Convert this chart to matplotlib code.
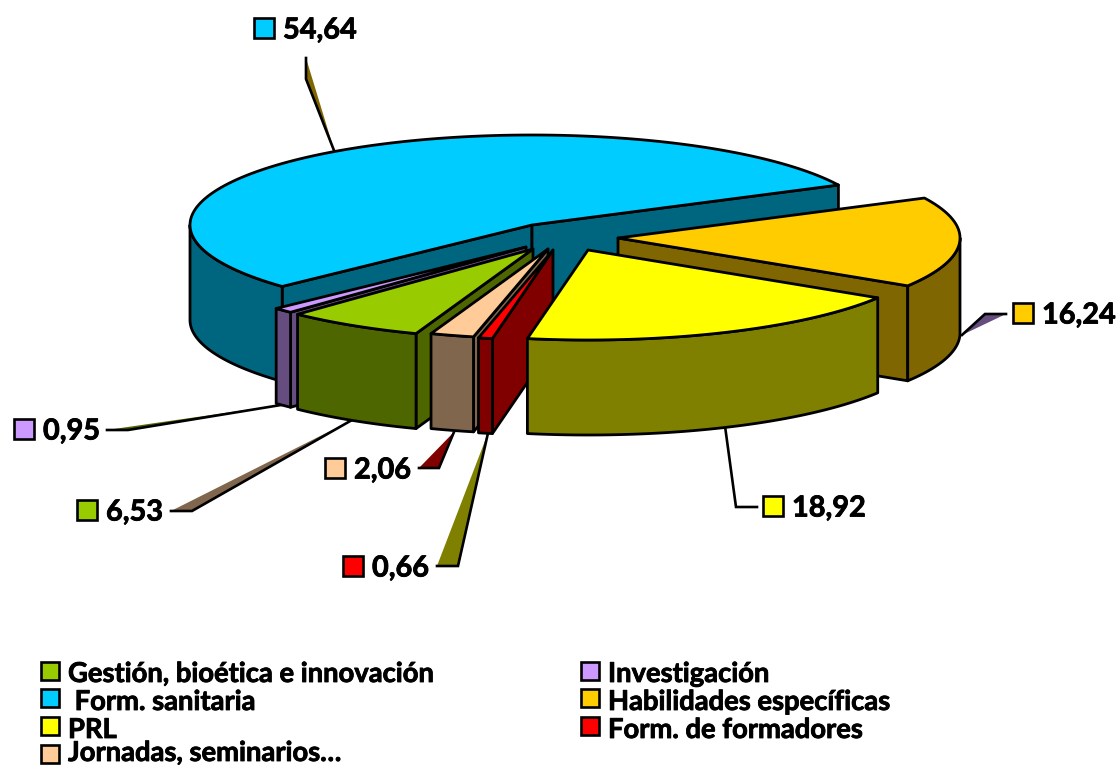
import numpy as np
import matplotlib
matplotlib.use("Agg")
import matplotlib.pyplot as plt
import matplotlib.patheffects as pe
from matplotlib.patches import Polygon, Rectangle

# legend order, which is also the order round the pie (clockwise)
names = ["Gestión, bioética e innovación", "Investigación", " Form. sanitaria",
         "Habilidades específicas", "PRL", "Form. de formadores", "Jornadas, seminarios…"]
values = [6.53, 0.95, 54.64, 16.24, 18.92, 0.66, 2.06]
labels = ["6,53", "0,95", "54,64", "16,24", "18,92", "0,66", "2,06"]

top_colors = ["#99CC00", "#CC99FF", "#00CCFF", "#FFCC00", "#FFFF00", "#FF0000", "#FFCC99"]
wall_colors = ["#4D6600", "#664D80", "#006680", "#806600", "#808000", "#800000", "#80664D"]
leader_colors = ["#80664D", "#4D6600", "#806600", "#664D80", "none", "#808000", "#800000"]

# where each exploded slice has its tip, in pixels
tips = [(533, 249), (526, 247), (532, 225), (618, 238), (588, 250), (553, 250), (548, 249)]
draw_order = [2, 3, 1, 0, 6, 5, 4]

start_angle = 250
rx, ry, depth = 342, 90, 95
font = "Lato"

# leader lines and data labels (swatch left, swatch top)
leaders = [[(352, 420), (192, 511), (171, 511)],
           [(287, 404), (128, 430), (107, 430)],
           [(335, 153), (306, 79), (306, 58)],
           [(962, 335), (985, 314), (1006, 314)],
           [(725, 426), (736, 507), (757, 507)],
           [(488, 433), (458, 566), (437, 566)],
           [(454, 432), (439, 468), (419, 468)]]
label_pos = [(77, 500), (14, 419), (254, 18), (1013, 303), (763, 496), (343, 556), (325, 458)]
legend_pos = [(41, 662), (581, 662), (41, 689), (581, 689), (41, 717), (581, 717), (41, 745)]
legend_text_y = [672, 672, 700, 700, 728, 728, 751]

fig = plt.figure(figsize=(11.16, 7.65), dpi=100)
ax = fig.add_axes([0, 0, 1, 1])
ax.set_xlim(0, 1116)
ax.set_ylim(765, 0)
ax.axis("off")

heavier = [pe.withStroke(linewidth=0.6, foreground="black")]


def rim(tip, a, b):
    t = np.radians(np.linspace(a, b, max(2, int(abs(a - b)) * 2)))
    return np.column_stack([tip[0] + rx * np.cos(t), tip[1] - ry * np.sin(t)])


def face(pts, color, z):
    ax.add_patch(Polygon(pts, closed=True, fc=color, ec="black", lw=2.0, joinstyle="round", zorder=z))


def radial_wall(tip, a, color, z):
    p = rim(tip, a, a)[0]
    face([tip, p, (p[0], p[1] + depth), (tip[0], tip[1] + depth)], color, z)


def swatch(x, y, w, color):
    ax.add_patch(Rectangle((x, y), w, w, fc=color, ec="black", lw=1.9, zorder=20))


# slices
angles = start_angle - np.cumsum([0] + values) * 3.6
for n, i in enumerate(draw_order):
    a, b = angles[i], angles[i + 1]
    z = 5 + n
    if np.cos(np.radians(a)) < 0:
        radial_wall(tips[i], a, wall_colors[i], z)
    if np.cos(np.radians(b)) > 0:
        radial_wall(tips[i], b, wall_colors[i], z)
    # only the front of the rim shows
    for band_lo, band_hi in [(180, 360), (-180, 0)]:
        hi, lo = min(a, band_hi), max(b, band_lo)
        if hi > lo:
            edge = rim(tips[i], hi, lo)
            face(np.vstack([edge, (edge + [0, depth])[::-1]]), wall_colors[i], z)
    face(np.vstack([[tips[i]], rim(tips[i], a, b)]), top_colors[i], z)

# leaders: filled chord, black only along the line itself
for i, pts in enumerate(leaders):
    ax.add_patch(Polygon(pts, closed=True, fc=leader_colors[i], ec="none", zorder=2))
    ax.plot(*zip(*pts), color="black", lw=1.9, solid_joinstyle="miter", zorder=3)

# data labels
for i, (x, y) in enumerate(label_pos):
    swatch(x, y, 20, top_colors[i])
    ax.text(x + 29, y + 10, labels[i], fontsize=20.8, fontweight="bold", family=font,
            va="center_baseline", ha="left", color="black", zorder=20, path_effects=heavier)

# legend
for i, (x, y) in enumerate(legend_pos):
    swatch(x, y, 18, top_colors[i])
    ax.text(x + 27, legend_text_y[i], names[i], fontsize=19.7, fontweight="bold", family=font,
            va="center_baseline", ha="left", color="black", zorder=20, path_effects=heavier)

fig.savefig("out.png", dpi=100, facecolor="white")
